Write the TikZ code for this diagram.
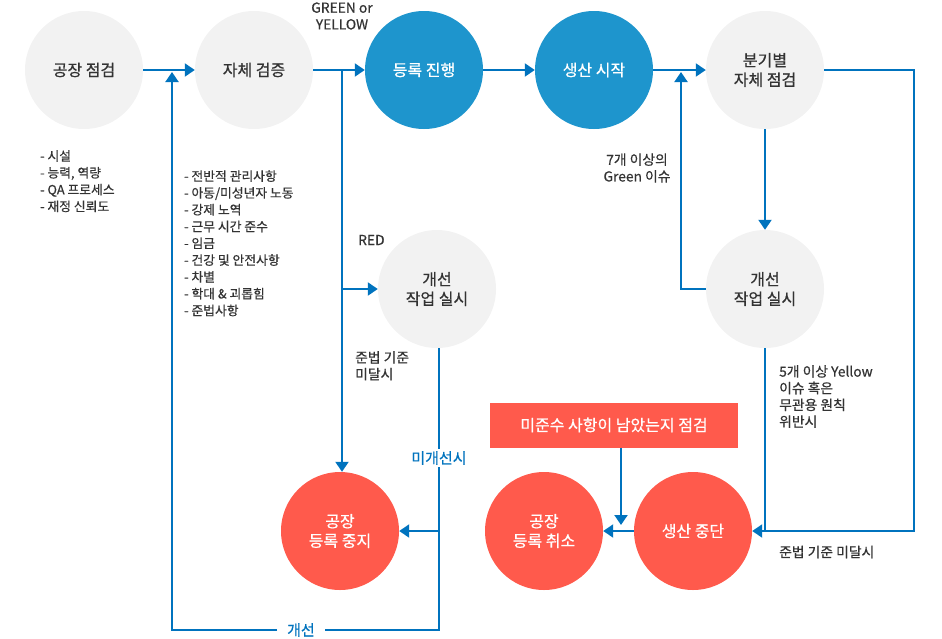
\documentclass[tikz,border=0pt]{standalone}
\usepackage{fontspec}
\setmainfont{Noto Sans CJK KR}[FakeBold=0.6]
\usetikzlibrary{arrows.meta}

\definecolor{cline}{HTML}{0073BE}
\definecolor{cblue}{HTML}{1E95CD}
\definecolor{cred}{HTML}{FF5A4C}
\definecolor{cgray}{HTML}{F2F2F2}
\definecolor{ctext}{HTML}{333333}

\tikzset{
    stepcircle/.style={circle, inner sep=0pt, minimum size=118pt, align=center, font=\fontsize{16}{19.5}\selectfont},
    graycircle/.style={stepcircle, fill=cgray, text=ctext},
    bluecircle/.style={stepcircle, fill=cblue, text=white},
    redcircle/.style={stepcircle, fill=cred, text=white},
    flow/.style={draw=cline, line width=2pt, -{Triangle[width=13pt,length=10pt]}},
    plainline/.style={draw=cline, line width=2pt},
    note/.style={align=left, text=ctext, inner sep=0pt, font=\fontsize{12.8}{16.8}\selectfont},
    cond/.style={note, font=\fontsize{13.8}{16.7}\selectfont},
    bluenote/.style={text=cline, fill=white, font=\fontsize{15}{17}\selectfont}
}

\begin{document}
\begin{tikzpicture}[x=1pt, y=-1pt]

\useasboundingbox (0,0) rectangle (942,638);

% Top row
\node[graycircle] (check) at (84,70) {공장 점검};
\node[graycircle] (verify) at (254,70) {자체 검증};
\node[bluecircle] (register) at (424,70) {등록 진행};
\node[bluecircle] (start) at (594,70) {생산 시작};
\node[graycircle] (quarter) at (765,70) {분기별\\자체 점검};

% Improvement steps
\node[graycircle] (fixmid) at (437,289) {개선\\작업 실시};
\node[graycircle] (fixright) at (765,289) {개선\\작업 실시};

% Bottom row
\node[redcircle] (halt) at (340,531) {공장\\등록 중지};
\node[redcircle] (cancel) at (544,531) {공장\\등록 취소};
\node[redcircle] (stop) at (693,531) {생산 중단};
\node[rectangle, fill=cred, text=white, minimum width=248pt, minimum height=45pt, font=\fontsize{16}{18}\selectfont] (recheck) at (614,425) {미준수 사항이 남았는지 점검};

% Labels on lines
\node[bluenote, inner xsep=2pt, inner ysep=2pt] (nofix) at (439,458) {미개선시};
\node[bluenote, inner xsep=10pt, inner ysep=2pt] (improve) at (301,630) {개선};

% Notes
\node[note, anchor=north west] (facility) at (40,150) {- 시설\\- 능력, 역량\\- QA 프로세스\\- 재정 신뢰도};
\node[note, anchor=north west] (items) at (184,170) {- 전반적 관리사항\\- 아동/미성년자 노동\\- 강제 노역\\- 근무 시간 준수\\- 임금\\- 건강 및 안전사항\\- 차별\\- 학대 \& 괴롭힘\\- 준법사항};
\node[cond, align=center] (pass) at (342,16) {GREEN or\\YELLOW};
\node[cond, anchor=west] (red) at (358,240) {RED};
\node[cond, align=center] (green) at (637,168) {7개 이상의\\Green 이슈};
\node[cond, anchor=north west] (failmid) at (355,351) {준법 기준\\미달시};
\node[cond, anchor=north west] (yellow) at (779,365) {5개 이상 Yellow\\이슈 혹은\\무관용 원칙\\위반시};
\node[cond, anchor=west] (failright) at (779,552) {준법 기준 미달시};

% Coordinates
\coordinate (split) at (342,70);
\coordinate (backleft) at (172,72);
\coordinate (backright) at (681,72);
\coordinate (corner) at (439,630);
\coordinate (outer) at (914,531);
\coordinate (drop) at (621,525);

% Arrows
\draw[flow] (check) -- (verify);
\draw[flow] (verify) -- (register);
\draw[flow] (register) -- (start);
\draw[flow] (start) -- (quarter);

\draw[flow] (split) -- (halt.north -| split);
\draw[flow] (fixmid -| split) -- (fixmid);

\draw[plainline] (fixmid.south -| nofix) -- (nofix);
\draw[plainline] (nofix) -- (corner) -- (improve);
\draw[flow] (nofix.south |- halt) -- (halt);
\draw[flow] (improve.west) -| (backleft);

\draw[flow] (quarter) -- (fixright);
\draw[flow] (fixright.west) -| (backright);
\draw[flow] (quarter.east) -| (outer) -- (stop);
\draw[plainline] (fixright) -- (fixright |- stop);

\draw[flow] (stop) -- (cancel);
\draw[flow] (recheck.south -| drop) -- (drop);

\end{tikzpicture}
\end{document}
